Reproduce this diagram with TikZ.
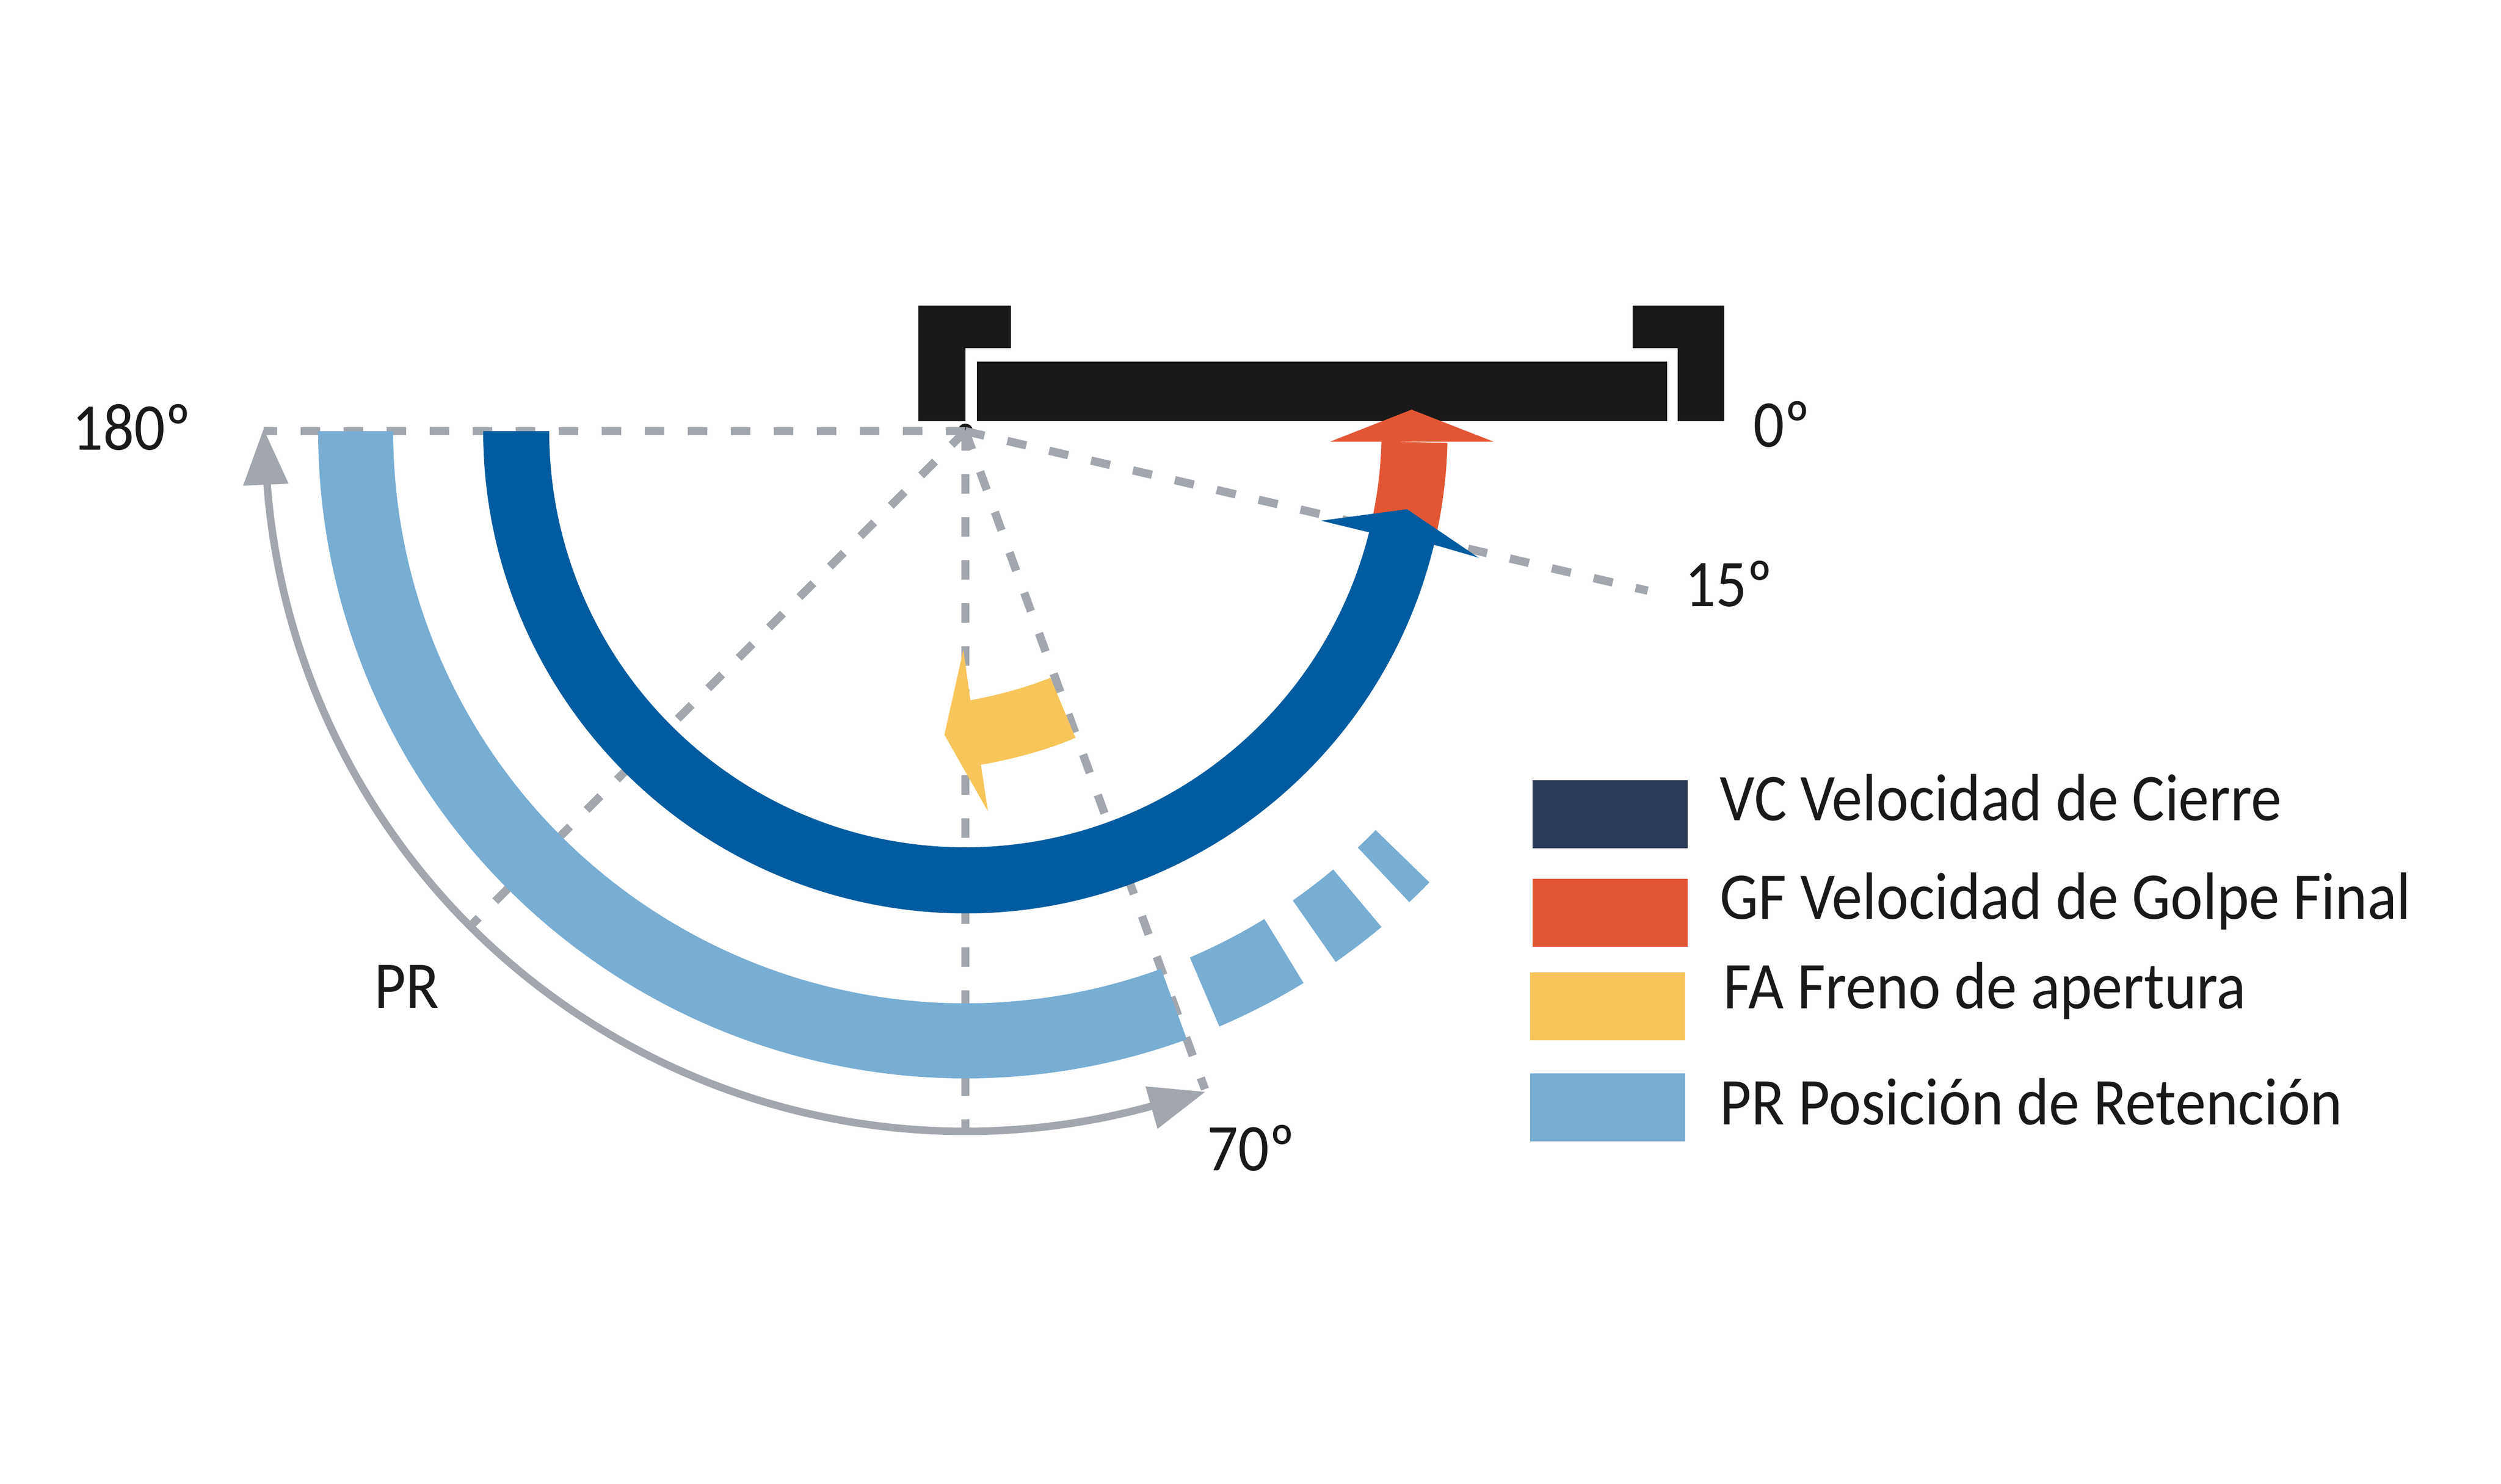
\documentclass[tikz,border=0pt]{standalone}
\usepackage{fontspec}
\setmainfont[FakeStretch=0.915]{Carlito}
\definecolor{doorblack}{HTML}{1A1919}
\definecolor{vcblue}{HTML}{005C9E}
\definecolor{prblue}{HTML}{78ADD4}
\definecolor{gfred}{HTML}{E25634}
\definecolor{fayellow}{HTML}{F8C55B}
\definecolor{navy}{HTML}{2C3B58}
\definecolor{guide}{HTML}{A2A6AD}
\tikzset{
  guideline/.style={draw=guide,line width=1.65mm,dash pattern=on 3.9mm off 4.7mm},
  sweep/.style={draw=guide,line width=1.5mm},
  swatch/.style={rectangle,inner sep=0pt,minimum width=31mm,minimum height=13.6mm,anchor=north west},
  lbl/.style={anchor=base west,inner sep=0pt,font=\fontsize{38}{40}\selectfont,text=doorblack},
}
\newcommand{\band}[5]{% color, inner r, outer r, start, end
  \fill[#1] (c) ++(#4:#2) arc[start angle=#4,end angle=#5,radius=#2] -- ($(c)+(#5:#3)$) arc[start angle=#5,end angle=#4,radius=#3] -- cycle;}
\usetikzlibrary{calc}
\begin{document}
\begin{tikzpicture}
\useasboundingbox (0,0) rectangle (50,-29.66);
\coordinate (c) at (19.30,-8.62);
\coordinate (e180) at (5.27,-8.62);
\coordinate (e15) at (32.94,-11.81);
\coordinate (e90) at (19.30,-22.60);
\coordinate (e70) at ($(c)+(-70:14.0)$);
\coordinate (e135) at ($(c)+(-135:14.0)$);
% pivot
\node[circle,fill=doorblack,inner sep=0pt,minimum size=3mm] (pivot) at (19.30,-8.62) {};
% guides
\draw[guideline] (c) -- (e180);
\draw[guideline] (c) -- (e15);
\draw[guideline] (c) -- (e90);
\draw[guideline] (c) -- (e70);
\draw[guideline] (c) -- (e135);
% sweep arc
\draw[sweep] (c) ++(-176:14.0) arc[start angle=-176,end angle=-74.5,radius=14.0];
\fill[guide] (5.27,-8.58) -- (5.77,-9.67) -- (4.86,-9.71) -- cycle;
\fill[guide] (24.09,-21.83) -- (22.90,-21.72) -- (23.14,-22.57) -- cycle;
% frame and door
\fill[doorblack] (18.36,-6.11) -- (20.21,-6.11) -- (20.21,-6.96) -- (19.30,-6.96) -- (19.30,-8.42) -- (18.36,-8.42) -- cycle;
\fill[doorblack] (34.47,-6.11) -- (32.64,-6.11) -- (32.64,-6.96) -- (33.54,-6.96) -- (33.54,-8.42) -- (34.47,-8.42) -- cycle;
\fill[doorblack] (19.53,-7.23) rectangle (33.33,-8.42);
% red arrow
\band{gfred}{8.32}{9.64}{-12}{-1.4}
\fill[gfred] (28.22,-8.19) -- (29.86,-8.83) -- (26.59,-8.83) -- cycle;
% blue arc and head
\band{vcblue}{8.32}{9.64}{-180}{-13}
\fill[vcblue] (28.13,-10.18) -- (29.56,-11.15) -- (28.67,-10.89) -- (27.36,-10.64) -- (26.41,-10.41) -- cycle;
% retention
\band{prblue}{11.44}{12.94}{-180}{-70}
\band{prblue}{11.44}{12.94}{-66.9}{-58.5}
\band{prblue}{11.44}{12.94}{-55.1}{-50}
\band{prblue}{11.44}{12.94}{-46.7}{-44.2}
% yellow arrow
\fill[fayellow] (19.26,-12.99) -- (19.40,-14.00) .. controls (19.95,-13.90) and (20.50,-13.75) .. (21.00,-13.55) -- (21.50,-14.75) .. controls (21.00,-14.97) and (20.30,-15.17) .. (19.61,-15.29) -- (19.75,-16.22) -- (18.88,-14.69) -- cycle;
% labels
\node[lbl] (l180) at (1.44,-8.99) {180º};
\node[lbl] (l0) at (35.05,-8.93) {0º};
\node[lbl] (l15) at (33.68,-12.12) {15º};
\node[lbl] (l70) at (24.13,-23.40) {70º};
\node[lbl] (lpr) at (7.48,-20.15) {PR};
% legend
\node[swatch,fill=navy] (s1) at (30.63,-15.59) {};
\node[swatch,fill=gfred] (s2) at (30.63,-17.56) {};
\node[swatch,fill=fayellow] (s3) at (30.58,-19.43) {};
\node[swatch,fill=prblue] (s4) at (30.58,-21.45) {};
\node[lbl] (t1) at (34.38,-16.40) {VC Velocidad de Cierre};
\node[lbl] (t2) at (34.38,-18.37) {GF Velocidad de Golpe Final};
\node[lbl] (t3) at (34.45,-20.16) {FA Freno de apertura};
\node[lbl] (t4) at (34.38,-22.48) {PR Posición de Retención};
\end{tikzpicture}
\end{document}
